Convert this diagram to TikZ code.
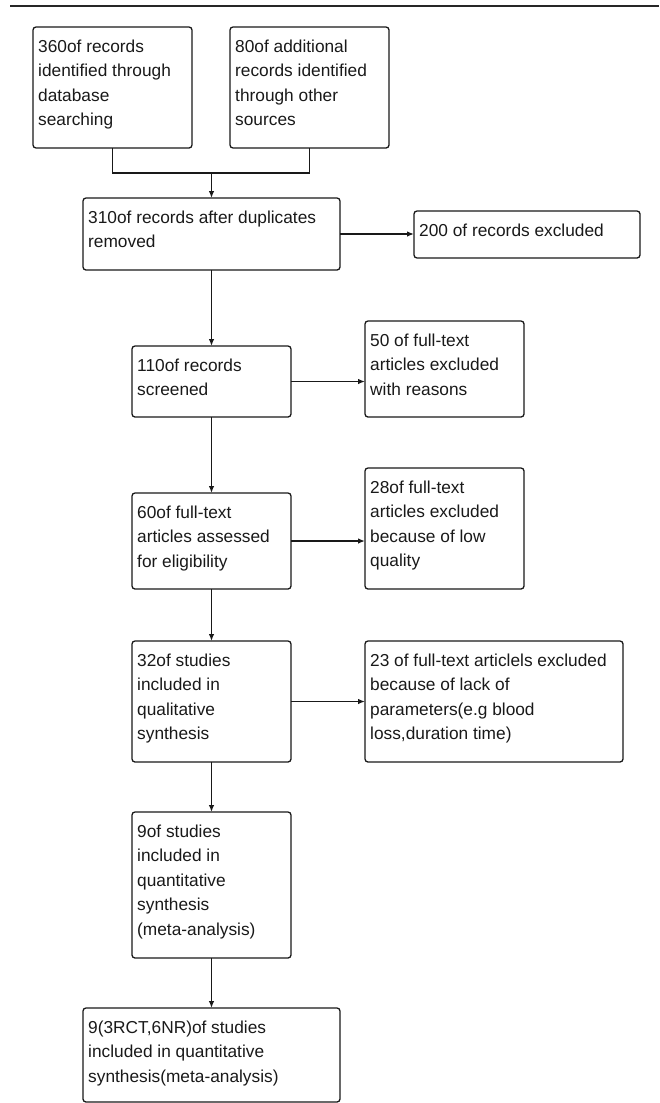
\documentclass[tikz,border=0pt]{standalone}
\usepackage{fontspec}
\setmainfont{Liberation Sans}
\usetikzlibrary{arrows.meta}
\newcommand\fstrut{\rule{0pt}{14pt}}
\begin{document}
\begin{tikzpicture}[x=1pt,y=-1pt,
  box/.style={draw=black!90, line width=1.3pt, rounded corners=3pt, inner sep=0pt, outer sep=0pt, anchor=north west},
  txt/.style={align=left, inner sep=0pt, anchor=north west, text=black!90, font=\fontsize{17.3}{24.5}\selectfont},
  conn/.style={draw=black!90, line width=1.3pt},
  arr/.style={conn, -{Latex[length=7pt,width=5.5pt]}}]
\useasboundingbox (0,0) rectangle (659,1103);
\fill[black!85] (10,4.8) rectangle (659,7.3);
% boxes
\node[box, minimum width=159pt, minimum height=121pt] (A) at (33,27) {};
\node[box, minimum width=159pt, minimum height=121pt] (B) at (230,27) {};
\node[box, minimum width=257pt, minimum height=72pt] (C) at (83,198) {};
\node[box, minimum width=226pt, minimum height=47pt] (D) at (414,211) {};
\node[box, minimum width=159pt, minimum height=71pt] (E) at (132,346) {};
\node[box, minimum width=159pt, minimum height=96pt] (F) at (365,321) {};
\node[box, minimum width=159pt, minimum height=96pt] (G) at (132,493) {};
\node[box, minimum width=159pt, minimum height=121pt] (H) at (365,468) {};
\node[box, minimum width=159pt, minimum height=121pt] (I) at (132,641) {};
\node[box, minimum width=258pt, minimum height=121pt] (J) at (365,641) {};
\node[box, minimum width=159pt, minimum height=146pt] (K) at (132,812) {};
\node[box, minimum width=257pt, minimum height=94pt] (L) at (83,1008) {};
% texts
\node[txt] (At) at ([xshift=5pt,yshift=-11pt]A.north west) {\fstrut 360of records\\identified through\\database\\searching};
\node[txt] (Bt) at ([xshift=5pt,yshift=-11pt]B.north west) {\fstrut 80of additional\\records identified\\through other\\sources};
\node[txt] (Ct) at ([xshift=5pt,yshift=-11pt]C.north west) {\fstrut 310of records after duplicates\\removed};
\node[txt] (Dt) at ([xshift=5pt,yshift=-11pt]D.north west) {\fstrut 200 of records excluded};
\node[txt] (Et) at ([xshift=5pt,yshift=-11pt]E.north west) {\fstrut 110of records\\screened};
\node[txt] (Ft) at ([xshift=5pt,yshift=-11pt]F.north west) {\fstrut 50 of full-text\\articles excluded\\with reasons};
\node[txt] (Gt) at ([xshift=5pt,yshift=-11pt]G.north west) {\fstrut 60of full-text\\articles assessed\\for eligibility};
\node[txt] (Ht) at ([xshift=5pt,yshift=-11pt]H.north west) {\fstrut 28of full-text\\articles excluded\\because of low\\quality};
\node[txt] (It) at ([xshift=5pt,yshift=-11pt]I.north west) {\fstrut 32of studies\\included in\\qualitative\\synthesis};
\node[txt] (Jt) at ([xshift=5pt,yshift=-11pt]J.north west) {\fstrut 23 of full-text articlels excluded\\because of lack of\\parameters(e.g blood\\loss,duration time)};
\node[txt] (Kt) at ([xshift=5pt,yshift=-11pt]K.north west) {\fstrut 9of studies\\included in\\quantitative\\synthesis\\(meta-analysis)};
\node[txt] (Lt) at ([xshift=5pt,yshift=-11pt]L.north west) {\fstrut 9(3RCT,6NR)of studies\\included in quantitative\\synthesis(meta-analysis)};
% connectors
\coordinate (J1) at (211.5,173);
\draw[conn] (A.south) -- (A.south |- J1) -- (B.south |- J1) -- (B.south);
\draw[arr] (J1) -- (J1 |- C.north);
\draw[arr] (C.east) -- (C.east -| D.west);
\draw[arr] (C.south) -- (E.north);
\draw[arr] (E.east) -- (E.east -| F.west);
\draw[arr] (E.south) -- (G.north);
\draw[arr] (G.east) -- (G.east -| H.west);
\draw[arr] (G.south) -- (I.north);
\draw[arr] (I.east) -- (I.east -| J.west);
\draw[arr] (I.south) -- (K.north);
\draw[arr] (K.south) -- (L.north);
\end{tikzpicture}
\end{document}
